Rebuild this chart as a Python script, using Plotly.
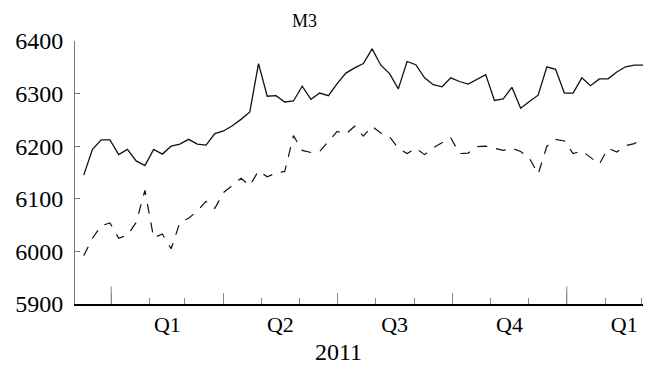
import pandas as pd
import plotly.graph_objects as go

dates = pd.date_range("2010-12-10", periods=65, freq="7D")

m3_solid = [6145, 6194, 6212, 6212, 6184, 6194, 6172, 6163, 6194, 6185,
            6200, 6204, 6213, 6204, 6202, 6224, 6229, 6239, 6251, 6265,
            6357, 6295, 6296, 6284, 6286, 6314, 6289, 6301, 6296, 6319,
            6339, 6349, 6357, 6385, 6354, 6338, 6309, 6361, 6355, 6330,
            6317, 6313, 6330, 6323, 6318, 6327, 6336, 6287, 6290, 6312,
            6272, 6285, 6297, 6351, 6346, 6301, 6301, 6330, 6315, 6328,
            6328, 6341, 6351, 6354, 6354]

m3_dashed = [5992, 6025, 6049, 6054, 6025, 6031, 6055, 6116, 6026, 6033,
             6005, 6055, 6063, 6077, 6095, 6082, 6112, 6125, 6139, 6125,
             6153, 6142, 6149, 6152, 6220, 6192, 6188, 6190, 6209, 6228,
             6223, 6238, 6219, 6238, 6225, 6218, 6196, 6186, 6196, 6184,
             6197, 6206, 6216, 6186, 6187, 6199, 6200, 6196, 6192, 6196,
             6190, 6177, 6147, 6200, 6213, 6210, 6186, 6191, 6178, 6166,
             6196, 6189, 6201, 6205, 6213]

y_ticks = [5900, 6000, 6100, 6200, 6300, 6400]
year_starts = ["2011-01-01", "2012-01-01"]
x_range = ["2010-12-03", "2012-03-02"]

FONT = "Liberation Serif"
OFF = 8  # default page body margin
PLOT_H = 304.3 - 40.7
PLOT_W = 642.7 - 75

fig = go.Figure()
fig.add_trace(go.Scatter(x=dates, y=m3_solid, mode="lines",
                         line=dict(color="#111111", width=1.3), showlegend=False))
fig.add_trace(go.Scatter(x=dates, y=m3_dashed, mode="lines",
                         line=dict(color="#111111", width=1.2, dash="10px,9px"),
                         showlegend=False))

for ys in year_starts:
    fig.add_shape(type="line", xref="x", yref="paper", x0=ys, x1=ys, y0=0, y1=17.7 / PLOT_H,
                  line=dict(color="#888888", width=1))

fig.add_annotation(text="2011", xref="x", yref="paper", x="2011-07-02", y=-(352 - 304.3) / PLOT_H,
                   yanchor="middle", showarrow=False, font=dict(family=FONT, size=24, color="black"))
fig.add_annotation(text="M3", xref="paper", yref="paper", x=(304 - 75) / PLOT_W,
                   y=1.0 + (40.7 - 20.5) / PLOT_H,
                   yanchor="middle", showarrow=False, font=dict(family=FONT, size=18, color="black"))

fig.update_layout(
    width=655 - OFF, height=368 - OFF,
    margin=dict(l=75 - OFF, r=12.3, t=40.7 - OFF, b=368 - 304.3),
    plot_bgcolor="white", paper_bgcolor="white",
    font=dict(family=FONT, size=22, color="black"),
    xaxis=dict(
        type="date", range=x_range, automargin=False,
        dtick="M3", tick0="2011-01-01", tickformat="Q%q", ticklabelmode="period",
        ticks="inside", ticklen=11, tickcolor="#888888", tickwidth=1,
        showline=True, linecolor="black", linewidth=1.5,
        showgrid=False, zeroline=False,
        minor=dict(dtick="M1", tick0="2011-01-01", ticks="inside", ticklen=6,
                   tickcolor="#888888", tickwidth=1, showgrid=False),
        tickfont=dict(family=FONT, size=22, color="black"),
    ),
    yaxis=dict(
        range=[5900, 6400], tickvals=y_ticks, automargin=False,
        ticks="inside", ticklen=5, tickcolor="#777777",
        showline=True, linecolor="#777777", linewidth=1,
        showgrid=False, zeroline=False,
        ticklabelstandoff=6,
        tickfont=dict(family=FONT, size=24, color="black"),
    ),
)

fig.write_html("out.html")
